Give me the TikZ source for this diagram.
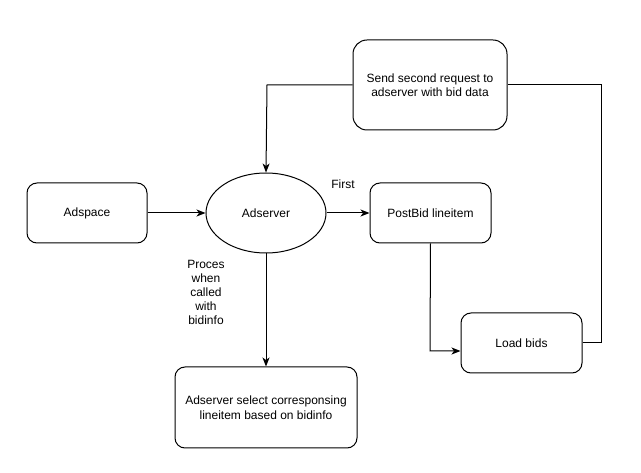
\documentclass[tikz,border=0pt]{standalone}
\usepackage{fontspec}
\setmainfont{Liberation Sans}
\usetikzlibrary{shapes.geometric,arrows.meta}
\begin{document}
\begin{tikzpicture}[x=1pt,y=-1pt,
  every node/.style={font=\fontsize{12}{14.5}\selectfont},
  box/.style={draw,line width=1pt,rounded corners=10pt,align=center,inner sep=0pt},
  conn/.style={line width=1pt,-{Stealth[length=9pt,width=7pt,inset=2.5pt]}},
  plain/.style={line width=1pt}]
\useasboundingbox (0,0) rectangle (641,473);
\node[box,minimum width=154pt,minimum height=90pt,rounded corners=14pt] (send) at (430,85) {Send second request to\\adserver with bid data};
\node[box,minimum width=120pt,minimum height=60pt] (adspace) at (87,213) {Adspace};
\node[draw,line width=1pt,ellipse,minimum width=120pt,minimum height=80pt,inner sep=0pt] (adserver) at (266,213) {Adserver};
\node[box,minimum width=121pt,minimum height=60pt] (postbid) at (430.5,213) {PostBid lineitem};
\node[box,minimum width=121pt,minimum height=60pt] (load) at (521.5,343) {Load bids};
\node[box,minimum width=182pt,minimum height=81pt] (select) at (266,407.5) {Adserver select corresponsing\\lineitem based on bidinfo};
\node (first) at (343,184) {First};
\node[align=center,font=\fontsize{12}{14}\selectfont] (proces) at (206,292) {Proces\\when\\called\\with\\bidinfo};
\coordinate (r1) at (601,343);
\coordinate (r2) at (601,85);
\coordinate (l1) at (267,85);
\coordinate (pb) at (430,351);
\draw[conn] (adspace.east) -- (adserver.west);
\draw[conn] (adserver.east) -- (postbid.west);
\draw[conn] (postbid.south) -- (pb) -- (load.west |- pb);
\draw[plain] (load.east) -- (r1) -- (r2) -- (send.east);
\draw[conn] (send.west) -- (l1) -- (adserver.north);
\draw[conn] (adserver.south) -- (select.north);
\end{tikzpicture}
\end{document}
